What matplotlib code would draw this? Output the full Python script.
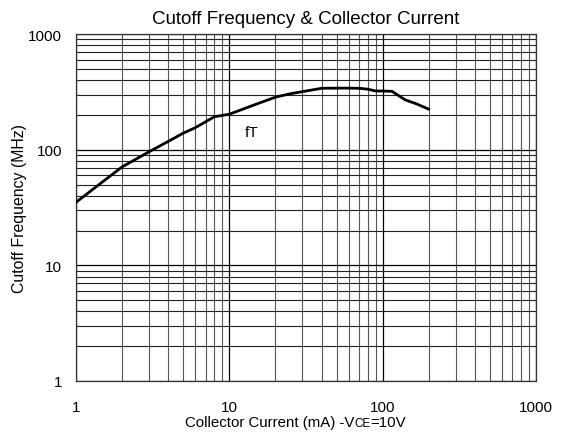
import matplotlib
matplotlib.use("Agg")
import matplotlib.pyplot as plt
from matplotlib.ticker import LogLocator, FixedLocator, NullFormatter

plt.rcParams['font.family'] = ['Liberation Sans', 'DejaVu Sans']

# fT curve (Ic in mA, fT in MHz)
ic = [1, 1.5, 2, 3, 4, 5, 6, 8, 9, 10, 12, 15, 20, 25, 30, 40, 50, 60, 70, 80, 90, 100, 115, 140, 165, 200]
ft = [35, 53, 71, 96, 118, 139, 155, 193, 198, 203, 222, 248, 285, 305, 318, 340, 341, 341, 340, 334, 322, 322, 320, 270, 250, 224]

xticks = [1, 10, 100, 1000]
yticks = [1, 10, 100, 1000]

fig = plt.figure(figsize=(5.62, 4.39), dpi=100)
ax = fig.add_axes([0.135, 0.130, 0.819, 0.790])

ax.plot(ic, ft, color='black', lw=2.0, solid_capstyle='round', zorder=3)

ax.set_xscale('log')
ax.set_yscale('log')
ax.set_xlim(1, 1000)
ax.set_ylim(1, 1000)

ax.xaxis.set_major_locator(FixedLocator(xticks))
ax.yaxis.set_major_locator(FixedLocator(yticks))
ax.set_xticklabels([str(t) for t in xticks])
ax.set_yticklabels([str(t) for t in yticks])
ax.xaxis.set_minor_locator(LogLocator(base=10, subs=range(2, 10)))
ax.yaxis.set_minor_locator(LogLocator(base=10, subs=range(2, 10)))
ax.xaxis.set_minor_formatter(NullFormatter())
ax.yaxis.set_minor_formatter(NullFormatter())

ax.grid(which='major', color='black', lw=0.9)
ax.grid(which='minor', axis='y', color='#222222', lw=0.8)
ax.grid(which='minor', axis='x', color='#555555', lw=0.8)
ax.tick_params(which='both', length=0, labelsize=11)
ax.tick_params(axis='x', pad=14)
ax.tick_params(axis='y', pad=10)
for s in ax.spines.values():
    s.set_color('#333333')
    s.set_linewidth(0.9)

ax.text(14, 142, 'fT', fontsize=11, ha='center', va='center')

ax.set_title('Cutoff Frequency & Collector Current', fontsize=13.5, pad=8)
ax.set_ylabel('Cutoff Frequency (MHz)', fontsize=11.4)
ax.yaxis.set_label_coords(-0.106, 0.5)

# x label with the small "CE" part
t1 = fig.text(185 / 562, 12 / 439, 'Collector Current (mA) -V', fontsize=10.8,
              ha='left', va='baseline')
t2 = ax.annotate('CE', xy=(1, 0), xycoords=t1, fontsize=8.4,
                 ha='left', va='bottom')
ax.annotate('=10V', xy=(1, 0), xycoords=t2, fontsize=10.8,
            ha='left', va='bottom')

fig.savefig('out.png', dpi=100)
